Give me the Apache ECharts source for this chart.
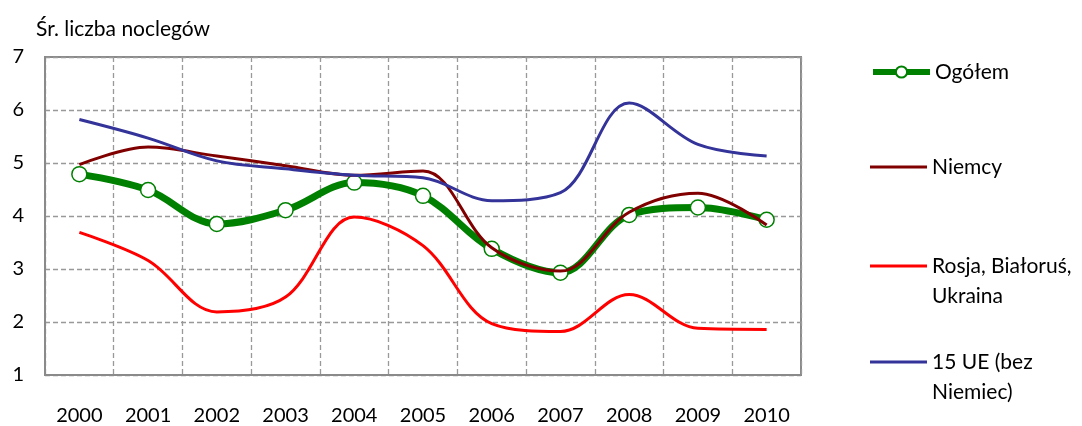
<!DOCTYPE html>
<html>
<head>
<meta charset="utf-8">
<script src="https://cdn.jsdelivr.net/npm/echarts@6/dist/echarts.min.js"></script>
<style>html,body{margin:0;padding:0;background:#fff}#c{width:1082px;height:426px}</style>
</head>
<body>
<div id="c"></div>
<script>
const years = ['2000','2001','2002','2003','2004','2005','2006','2007','2008','2009','2010'];
const ogolem = [4.79, 4.49, 3.85, 4.11, 4.63, 4.38, 3.38, 2.93, 4.02, 4.16, 3.93];
const niemcy = [4.97, 5.30, 5.13, 4.95, 4.77, 4.85, 3.40, 2.96, 4.07, 4.43, 3.83];
const rosja = [3.69, 3.16, 2.19, 2.47, 3.98, 3.44, 1.97, 1.82, 2.52, 1.88, 1.86];
const ue15 = [5.82, 5.47, 5.04, 4.89, 4.77, 4.72, 4.29, 4.44, 6.13, 5.35, 5.13];
const names = ['Ogółem', 'Niemcy', 'Rosja, Białoruś,\nUkraina', '15 UE (bez\nNiemiec)'];
const yTicks = [1, 7, 1];

const FONT = 'Lato';
const chart = echarts.init(document.getElementById('c'), null, {renderer: 'canvas'});

function legendFor(name, top, twoLine, main) {
  const l = {
    data: [name], left: 870, top: top, orient: 'vertical',
    itemWidth: 57, itemHeight: main ? 14 : 3, itemGap: 0, padding: 0,
    formatter: twoLine ? function (n) { return '\u200b\n' + n; } : '{name}',
    textStyle: {fontFamily: FONT, fontSize: 21, color: '#000', lineHeight: 30},
    selectedMode: false
  };
  if (main) { l.lineStyle = {width: 6}; } else { l.icon = 'rect'; }
  return l;
}

chart.setOption({
  animation: false,
  title: {
    text: 'Śr. liczba noclegów', left: 31, top: 14,
    textStyle: {fontFamily: FONT, fontSize: 21, fontWeight: 'normal', color: '#000'}
  },
  legend: [
    legendFor(names[0], 57, false, true),
    legendFor(names[1], 152, false, false),
    legendFor(names[2], 221, true, false),
    legendFor(names[3], 317, true, false)
  ],
  grid: {left: 45, top: 57, right: 281, bottom: 49, show: true, borderColor: '#8a8a8a', borderWidth: 2},
  xAxis: {
    type: 'category', data: years, boundaryGap: true,
    axisLine: {show: true, lineStyle: {color: '#8a8a8a', width: 2}},
    axisTick: {show: false},
    axisLabel: {fontFamily: FONT, fontSize: 20, color: '#000', margin: 31},
    splitLine: {show: true, lineStyle: {color: '#999', type: [5, 3], width: 1.3}}
  },
  yAxis: {
    type: 'value', min: yTicks[0], max: yTicks[1], interval: yTicks[2],
    axisLine: {show: true, lineStyle: {color: '#8a8a8a', width: 2}},
    axisTick: {show: false},
    axisLabel: {fontFamily: FONT, fontSize: 20, color: '#000', margin: 21},
    splitLine: {show: true, lineStyle: {color: '#999', type: [5, 3], width: 1.3}}
  },
  series: [
    {
      name: names[0], type: 'line', data: ogolem, smooth: 0.35,
      lineStyle: {color: '#008000', width: 7},
      itemStyle: {color: '#fff', borderColor: '#008000', borderWidth: 1.5},
      symbol: 'circle', symbolSize: 15, showSymbol: true, z: 2
    },
    {
      name: names[1], type: 'line', data: niemcy, smooth: 0.35, symbol: 'none',
      lineStyle: {color: '#800000', width: 3}, itemStyle: {color: '#800000'}, z: 3
    },
    {
      name: names[2], type: 'line', data: rosja, smooth: 0.35, symbol: 'none',
      lineStyle: {color: '#ff0000', width: 3}, itemStyle: {color: '#ff0000'}, z: 3
    },
    {
      name: names[3], type: 'line', data: ue15, smooth: 0.35, symbol: 'none',
      lineStyle: {color: '#333399', width: 3}, itemStyle: {color: '#333399'}, z: 3
    }
  ]
});
</script>
</body>
</html>
